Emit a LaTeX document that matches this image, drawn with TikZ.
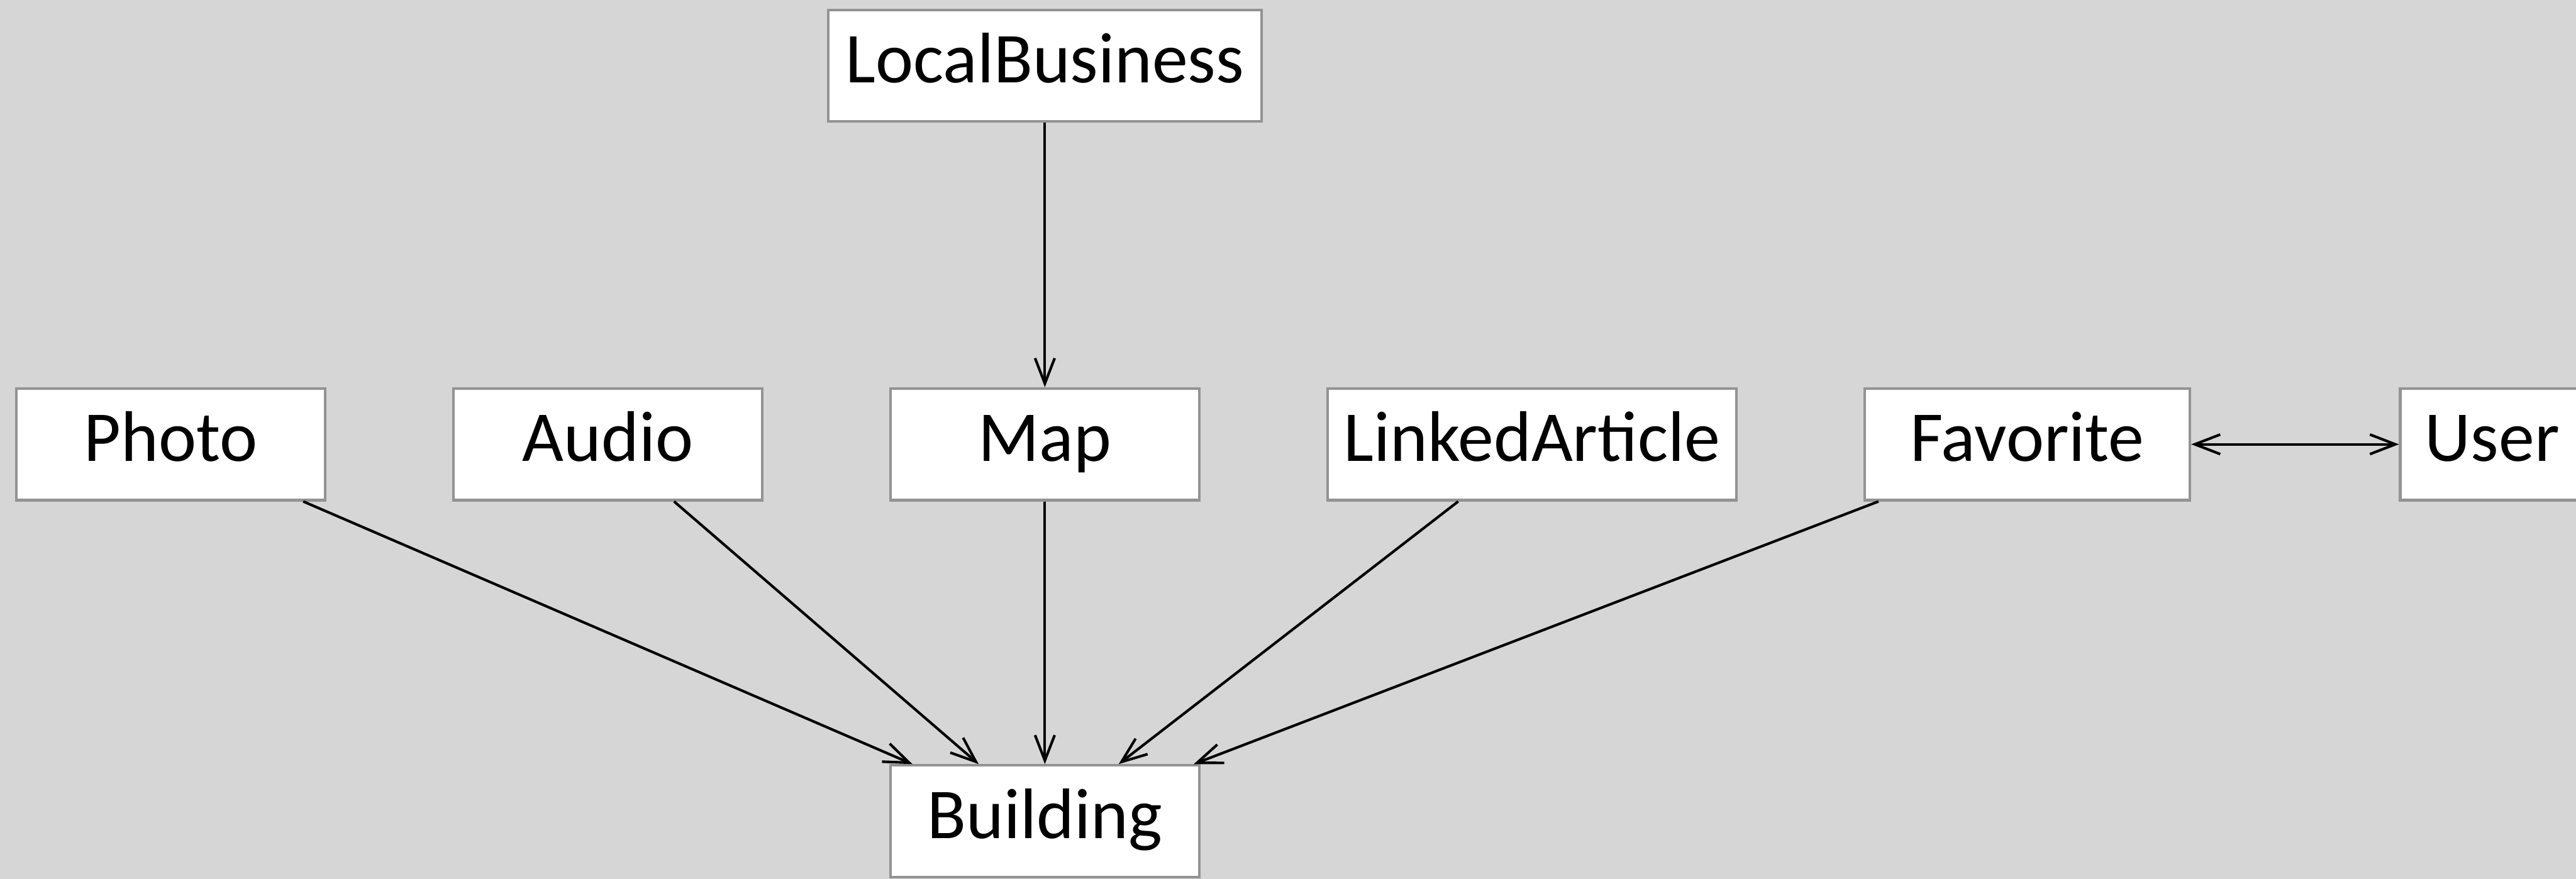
\documentclass[tikz,border=0pt]{standalone}
\usepackage{fontspec}
\setmainfont{Carlito}
\usetikzlibrary{arrows.meta}

\definecolor{canvas}{HTML}{D6D6D6}
\definecolor{boxedge}{HTML}{939393}

\tikzset{
  >={Straight Barb[length=4.4pt, width=3.4pt]},
  entity/.style={draw=boxedge, line width=0.45pt, fill=white, inner sep=0pt,
    minimum height=6.8mm, text height=2.85mm, text depth=0.79mm,
    font=\fontsize{12.4}{14}\selectfont},
  link/.style={line width=0.45pt, ->},
}

\begin{document}
\begin{tikzpicture}[x=0.1mm, y=-0.1mm]

  %% Canvas
  \clip (0,0) rectangle (1568,535);
  \fill[canvas] (0,0) rectangle (1568,535);

  %% Entities
  \node[entity, minimum width=26.4mm] (local) at (636,40) {LocalBusiness};
  \node[entity, minimum width=18.8mm] (photo) at (104,270.5) {Photo};
  \node[entity, minimum width=18.8mm] (audio) at (370,270.5) {Audio};
  \node[entity, minimum width=18.8mm] (map) at (636,270.5) {Map};
  \node[entity, minimum width=24.9mm] (article) at (932.5,270.5) {LinkedArticle};
  \node[entity, minimum width=19.8mm] (favorite) at (1234,270.5) {Favorite};
  \node[entity, minimum width=11.2mm] (user) at (1517,270.5) {User};
  \node[entity, minimum width=18.8mm] (building) at (636,500) {Building};

  %% Links
  \draw[link] (local) -- (map);
  \draw[link] (photo) -- (building);
  \draw[link] (audio) -- (building);
  \draw[link] (map) -- (building);
  \draw[link] (article) -- (building);
  \draw[link] (favorite) -- (building);
  \draw[link, <->] (favorite) -- (user);

\end{tikzpicture}
\end{document}
